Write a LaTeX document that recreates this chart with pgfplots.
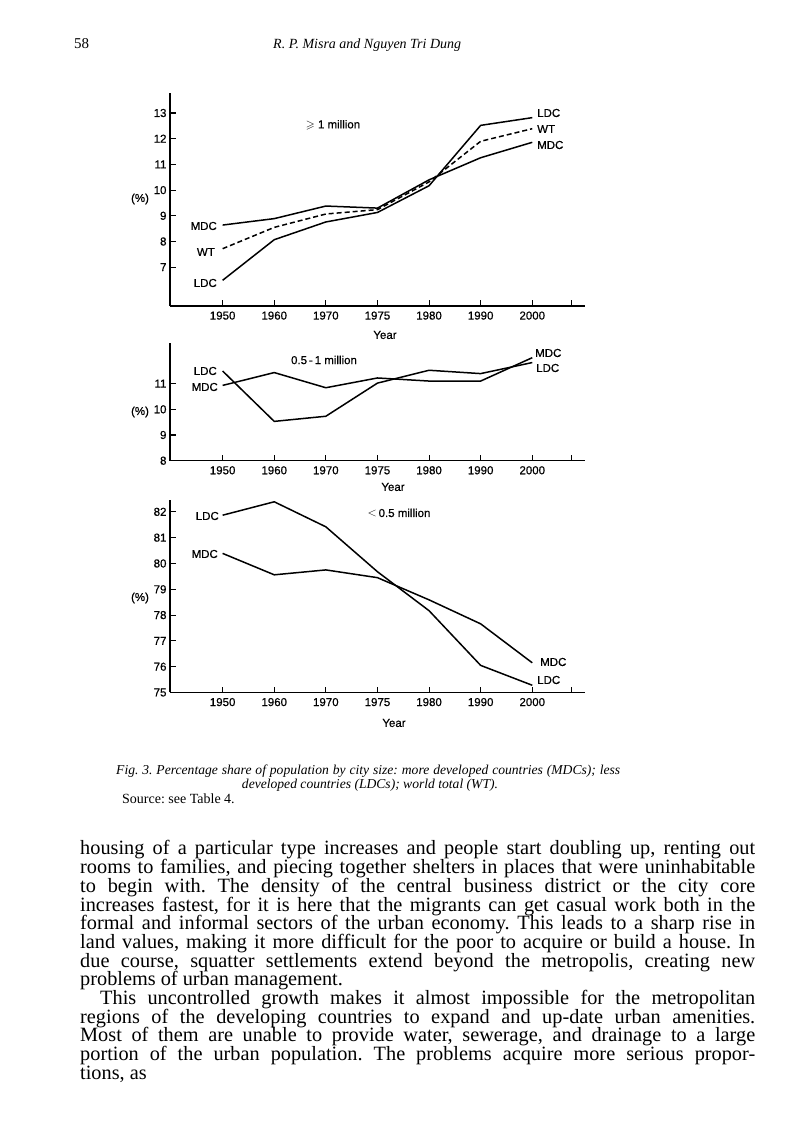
\documentclass[border=0pt]{standalone}
\usepackage{fontspec}
\usepackage{amssymb}
\setmainfont{Liberation Serif}
\newfontfamily\hv[FakeBold=0.6]{Liberation Sans}
\usepackage{pgfplots}
\pgfplotsset{compat=1.18}
\frenchspacing
\newcommand{\lab}{\hv\fontsize{11.5}{12}\selectfont}
\newcommand{\body}{\rmfamily\fontsize{20.3}{20}\selectfont\spaceskip=0.25em plus 0.3em minus 0.12em\relax}
\pgfplotsset{
  panel/.style={
    scale only axis, width=414.9pt,
    xmin=-1.02, xmax=7.02,
    axis x line*=bottom, axis y line*=left,
    axis line style={line width=1.5pt, -},
    every outer x axis line/.append style={-},
    every outer y axis line/.append style={-},
    xtick={0,1,2,3,4,5,6},
    xticklabels={1950,1960,1970,1975,1980,1990,2000},
    extra x ticks={6.76}, extra x tick labels={},
    tick align=inside, major tick length=5.5pt,
    tick style={line width=1.1pt, black},
    tick label style={font=\lab},
    xticklabel style={yshift=-2pt},
    /pgf/number format/assume math mode=true,
    clip=false,
  },
  ser/.style={line width=1.5pt, black, line join=round, mark=none},
}
\begin{document}
\begin{tikzpicture}
\path[use as bounding box, fill=white] (0pt,0pt) rectangle (800pt,1138pt);
% header
\node[anchor=base west, inner sep=0] at (74pt,1089pt) {\fontsize{15}{15}\selectfont 58};
\node[anchor=base west, inner sep=0] at (273pt,1089pt) {\fontsize{14}{14}\selectfont\itshape R. P. Misra and Nguyen Tri Dung};

% ---------- chart 1 ----------
\begin{axis}[panel, at={(170pt,832pt)}, anchor=south west, height=213pt,
  ymin=5.49, ymax=13.78, ytick={7,8,9,10,11,12,13}]
\addplot[ser] coordinates {(0,6.49)(1,8.07)(2,8.76)(3,9.13)(4,10.17)(5,12.52)(6,12.82)};
\addplot[ser] coordinates {(0,8.64)(1,8.89)(2,9.38)(3,9.30)(4,10.40)(5,11.26)(6,11.86)};
\addplot[ser, dash pattern=on 5pt off 3pt] coordinates {(0,7.72)(1,8.55)(2,9.07)(3,9.24)(4,10.32)(5,11.90)(6,12.39)};
\end{axis}
\node[anchor=west, inner sep=0] at (537pt,1025pt) {\lab LDC};
\node[anchor=west, inner sep=0] at (537pt,1009pt) {\lab WT};
\node[anchor=west, inner sep=0] at (537pt,993pt) {\lab MDC};
\node[anchor=east, inner sep=0] at (217pt,912pt) {\lab MDC};
\node[anchor=east, inner sep=0] at (215pt,886pt) {\lab WT};
\node[anchor=east, inner sep=0] at (217pt,855pt) {\lab LDC};
\node[inner sep=0] at (333pt,1013pt) {\lab $\geqslant$ 1 million};
\node[inner sep=0] at (140pt,939pt) {\lab (\%)};
\node[inner sep=0] at (385pt,803pt) {\lab Year};

% ---------- chart 2 ----------
\begin{axis}[panel, at={(170pt,677.3pt)}, anchor=south west, height=117.4pt,
  ymin=8, ymax=12.57, ytick={8,9,10,11}]
\addplot[ser] coordinates {(0,10.93)(1,11.43)(2,10.84)(3,11.22)(4,11.10)(5,11.10)(6,12.01)};
\addplot[ser] coordinates {(0,11.49)(1,9.53)(2,9.73)(3,11.02)(4,11.52)(5,11.39)(6,11.82)};
\end{axis}
\node[anchor=east, inner sep=0] at (217pt,767pt) {\lab LDC};
\node[anchor=east, inner sep=0] at (218pt,751pt) {\lab MDC};
\node[anchor=west, inner sep=0] at (535pt,785pt) {\lab MDC};
\node[anchor=west, inner sep=0] at (536pt,770pt) {\lab LDC};
\node[inner sep=0] at (324pt,778pt) {\lab 0.5\,-\,1 million};
\node[inner sep=0] at (140pt,726pt) {\lab (\%)};
\node[inner sep=0] at (393pt,651pt) {\lab Year};

% ---------- chart 3 ----------
\begin{axis}[panel, at={(170pt,445.5pt)}, anchor=south west, height=192pt,
  ymin=75, ymax=82.44, ytick={75,76,77,78,79,80,81,82}]
\addplot[ser] coordinates {(0,81.87)(1,82.39)(2,81.42)(3,79.68)(4,78.17)(5,76.05)(6,75.28)};
\addplot[ser] coordinates {(0,80.39)(1,79.56)(2,79.75)(3,79.45)(4,78.59)(5,77.66)(6,76.15)};
\end{axis}
\node[anchor=east, inner sep=0] at (219pt,622pt) {\lab LDC};
\node[anchor=east, inner sep=0] at (218pt,584pt) {\lab MDC};
\node[anchor=west, inner sep=0] at (540pt,476pt) {\lab MDC};
\node[anchor=west, inner sep=0] at (537pt,458pt) {\lab LDC};
\node[inner sep=0] at (399pt,625pt) {\lab $<$\,0.5 million};
\node[inner sep=0] at (140pt,540pt) {\lab (\%)};
\node[inner sep=0] at (394pt,415pt) {\lab Year};

% ---------- caption ----------
\node[anchor=base west, inner sep=0] at (116pt,363pt) {\fontsize{13.6}{13.6}\selectfont\itshape\spaceskip=0.25em plus 0.3em minus 0.12em\relax\makebox[504pt][s]{Fig. 3. Percentage share of population by city size: more developed countries (MDCs); less}};
\node[anchor=base, inner sep=0] at (370pt,349pt) {\fontsize{13.6}{13.6}\selectfont\itshape developed countries (LDCs); world total (WT).};
\node[anchor=base west, inner sep=0] at (122pt,334pt) {\fontsize{14}{14}\selectfont Source: see Table 4.};

% ---------- body text ----------
\def\bl#1#2{\node[anchor=base west, inner sep=0] at (80pt,{(283-18.7*#1)*1pt}) {\body\makebox[675pt][s]{#2}};}
\bl{0}{housing of a particular type increases and people start doubling up, renting out}
\bl{1}{rooms to families, and piecing together shelters in places that were uninhabitable}
\bl{2}{to begin with. The density of the central business district or the city core}
\bl{3}{increases fastest, for it is here that the migrants can get casual work both in the}
\bl{4}{formal and informal sectors of the urban economy. This leads to a sharp rise in}
\bl{5}{land values, making it more difficult for the poor to acquire or build a house. In}
\bl{6}{due course, squatter settlements extend beyond the metropolis, creating new}
\node[anchor=base west, inner sep=0] at (80pt,{(283-18.7*7)*1pt}) {\body problems of urban management.};
\node[anchor=base west, inner sep=0] at (100pt,{(283-18.7*8)*1pt}) {\body\makebox[655pt][s]{This uncontrolled growth makes it almost impossible for the metropolitan}};
\bl{9}{regions of the developing countries to expand and up-date urban amenities.}
\bl{10}{Most of them are unable to provide water, sewerage, and drainage to a large}
\bl{11}{portion of the urban population. The problems acquire more serious propor-}
\node[anchor=base west, inner sep=0] at (80pt,{(283-18.7*12)*1pt}) {\body tions, as};
\end{tikzpicture}
\end{document}
